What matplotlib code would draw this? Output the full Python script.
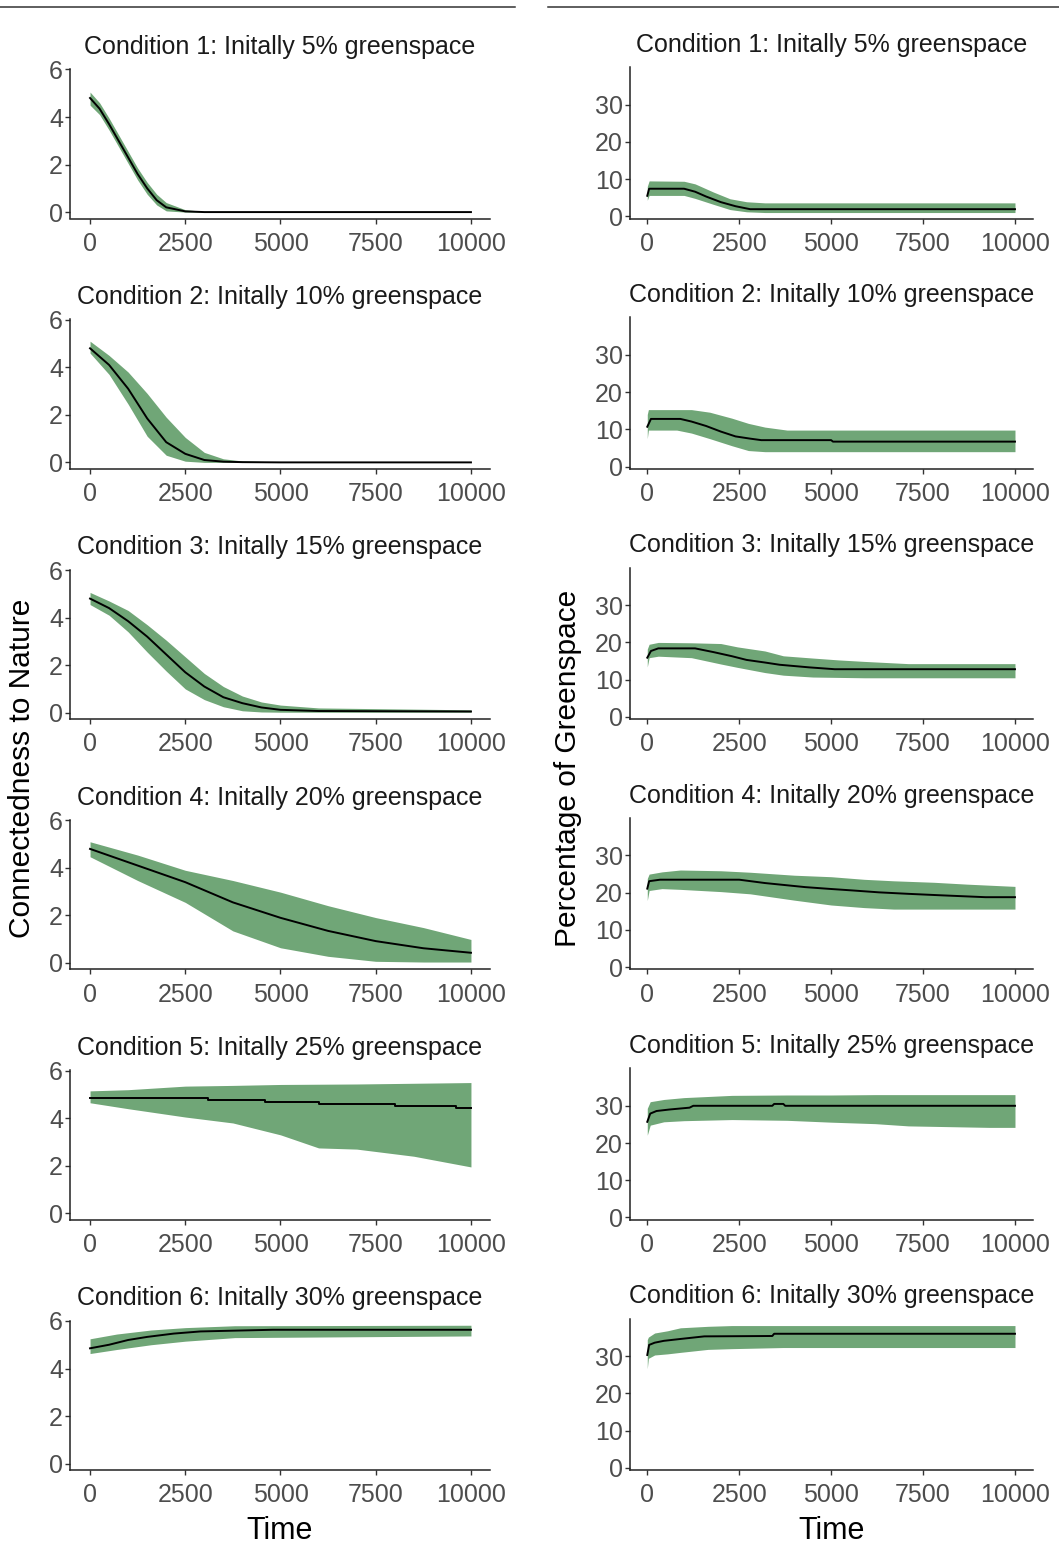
import matplotlib
matplotlib.use("Agg")
import matplotlib.pyplot as plt
from matplotlib.lines import Line2D

plt.rcParams['font.family'] = ['Liberation Sans', 'DejaVu Sans']

titles = [
    "Condition 1: Initally 5% greenspace",
    "Condition 2: Initally 10% greenspace",
    "Condition 3: Initally 15% greenspace",
    "Condition 4: Initally 20% greenspace",
    "Condition 5: Initally 25% greenspace",
    "Condition 6: Initally 30% greenspace",
]
x_ticks = [0, 2500, 5000, 7500, 10000]
cn_ticks = [0, 2, 4, 6]
gs_ticks = [0, 10, 20, 30]

# ---- connectedness to nature (left column) ----
cn1_time = [0, 250, 500, 750, 1000, 1250, 1500, 1750, 2000, 2500, 3000, 10000]
cn1_mean = [4.8, 4.35, 3.7, 3.0, 2.3, 1.6, 1.0, 0.5, 0.2, 0.03, 0.0, 0.0]
cn1_low = [4.5, 4.1, 3.45, 2.75, 2.05, 1.35, 0.75, 0.3, 0.05, 0.0, 0.0, 0.0]
cn1_high = [5.05, 4.6, 3.95, 3.25, 2.55, 1.85, 1.25, 0.75, 0.4, 0.1, 0.03, 0.0]

cn2_time = [0, 500, 1000, 1500, 2000, 2500, 3000, 3500, 4000, 5000, 10000]
cn2_mean = [4.8, 4.1, 3.1, 1.85, 0.85, 0.36, 0.1, 0.03, 0.01, 0.0, 0.0]
cn2_low = [4.6, 3.7, 2.45, 1.1, 0.3, 0.05, 0.0, 0.0, 0.0, 0.0, 0.0]
cn2_high = [5.1, 4.5, 3.8, 2.9, 1.9, 1.05, 0.42, 0.15, 0.06, 0.02, 0.0]

cn3_time = [0, 500, 1000, 1500, 2000, 2500, 3000, 3500, 4000, 4500, 5000, 6000, 10000]
cn3_mean = [4.8, 4.4, 3.85, 3.2, 2.45, 1.7, 1.1, 0.65, 0.4, 0.22, 0.12, 0.07, 0.05]
cn3_low = [4.55, 4.1, 3.4, 2.55, 1.75, 1.0, 0.55, 0.25, 0.08, 0.03, 0.02, 0.02, 0.02]
cn3_high = [5.06, 4.7, 4.3, 3.7, 3.05, 2.35, 1.65, 1.1, 0.7, 0.45, 0.32, 0.2, 0.12]

cn4_time = [0, 1250, 2500, 3750, 5000, 6250, 7500, 8750, 10000]
cn4_mean = [4.8, 4.1, 3.4, 2.55, 1.9, 1.35, 0.92, 0.62, 0.43]
cn4_low = [4.47, 3.47, 2.55, 1.35, 0.64, 0.28, 0.07, 0.04, 0.04]
cn4_high = [5.1, 4.54, 3.9, 3.47, 2.98, 2.41, 1.91, 1.49, 0.99]

cn5_mean_time = [0, 3100, 4600, 6000, 8000, 9600, 10000]
cn5_mean = [4.85, 4.75, 4.68, 4.6, 4.52, 4.44, 4.44]
cn5_time = [0, 1000, 2500, 3750, 5000, 6000, 7000, 8500, 10000]
cn5_low = [4.65, 4.4, 4.05, 3.8, 3.3, 2.75, 2.7, 2.4, 1.95]
cn5_high = [5.15, 5.2, 5.35, 5.38, 5.42, 5.43, 5.44, 5.47, 5.5]

cn6_mean_time = [0, 500, 1000, 1500, 2200, 2900, 4800, 10000]
cn6_mean = [4.85, 5.0, 5.2, 5.33, 5.47, 5.56, 5.63, 5.63]
cn6_time = [0, 700, 1600, 2500, 3800, 10000]
cn6_low = [4.63, 4.8, 5.0, 5.15, 5.3, 5.37]
cn6_high = [5.25, 5.45, 5.62, 5.72, 5.8, 5.82]

# ---- percentage of greenspace (right column) ----
gs1_mean_time = [0, 50, 1000, 1300, 1600, 2000, 2400, 2800, 10000]
gs1_mean = [5.5, 7.4, 7.4, 6.6, 5.3, 3.8, 2.7, 1.9, 1.9]
gs1_time = [0, 50, 1000, 1300, 1800, 2250, 2700, 3200, 10000]
gs1_low = [4.3, 5.6, 5.6, 4.8, 3.2, 1.8, 1.2, 1.0, 1.0]
gs1_high = [8.0, 9.5, 9.4, 8.7, 6.5, 4.7, 3.9, 3.6, 3.6]

gs2_mean_time = [0, 100, 900, 1200, 1600, 2000, 2400, 2800, 3100, 5000, 5050, 10000]
gs2_mean = [10.7, 12.8, 12.8, 12.1, 10.9, 9.4, 8.1, 7.5, 7.1, 7.1, 6.7, 6.7]
gs2_time = [0, 30, 800, 1200, 1700, 2300, 2750, 3200, 3800, 10000]
gs2_low = [7.5, 9.8, 9.8, 9.0, 7.5, 5.6, 4.3, 4.0, 4.0, 4.0]
gs2_high = [14.0, 15.3, 15.3, 15.3, 14.6, 13.0, 11.6, 10.6, 9.8, 9.8]

gs3_mean_time = [0, 100, 300, 1300, 1800, 2300, 2700, 3200, 3600, 4400, 5100, 10000]
gs3_mean = [15.9, 17.7, 18.4, 18.4, 17.4, 16.3, 15.3, 14.6, 14.0, 13.3, 12.8, 12.8]
gs3_time = [0, 50, 300, 1200, 2000, 2450, 3200, 3700, 4500, 5200, 5900, 7100, 10000]
gs3_low = [13.4, 15.9, 16.3, 15.9, 14.2, 13.3, 11.9, 11.2, 10.7, 10.6, 10.5, 10.5, 10.5]
gs3_high = [18.2, 19.5, 20.0, 19.9, 19.7, 18.8, 17.7, 16.4, 15.8, 15.3, 14.9, 14.3, 14.3]

gs4_mean_time = [0, 50, 350, 2500, 3200, 3800, 4300, 5000, 5600, 6300, 7100, 8000, 9200, 10000]
gs4_mean = [21.1, 23.1, 23.5, 23.5, 22.6, 22.0, 21.5, 21.0, 20.6, 20.1, 19.7, 19.3, 18.8, 18.8]
gs4_time = [0, 50, 400, 900, 2000, 2800, 4000, 5000, 5900, 6700, 7800, 8700, 10000]
gs4_low = [17.9, 20.6, 21.1, 20.9, 20.3, 19.7, 18.0, 16.7, 16.0, 15.6, 15.6, 15.6, 15.6]
gs4_high = [23.8, 25.0, 25.6, 26.1, 25.9, 25.5, 24.7, 24.3, 23.6, 23.2, 22.8, 22.3, 21.7]

gs5_mean_time = [0, 80, 250, 600, 1150, 1250, 3400, 3450, 3700, 3750, 10000]
gs5_mean = [25.7, 27.9, 28.6, 29.0, 29.5, 30.0, 30.0, 30.5, 30.5, 30.0, 30.0]
gs5_time = [0, 80, 450, 1000, 2300, 3800, 5000, 6200, 7100, 9300, 10000]
gs5_low = [22.1, 24.8, 25.7, 26.0, 26.3, 26.1, 25.6, 25.2, 24.6, 24.2, 24.2]
gs5_high = [29.3, 31.1, 31.7, 32.2, 32.8, 32.9, 32.9, 33.0, 33.0, 33.0, 33.0]

gs6_mean_time = [0, 50, 200, 450, 900, 1550, 3400, 3450, 10000]
gs6_mean = [30.3, 33.0, 33.6, 34.1, 34.6, 35.3, 35.4, 36.0, 36.0]
gs6_time = [0, 30, 200, 550, 900, 1650, 2300, 3700, 10000]
gs6_low = [26.6, 29.4, 30.3, 30.6, 31.0, 31.8, 32.0, 32.3, 32.3]
gs6_high = [34.4, 35.1, 36.2, 36.8, 37.6, 38.0, 38.2, 38.2, 38.2]

left_panels = [
    (cn1_time, cn1_low, cn1_high, cn1_time, cn1_mean),
    (cn2_time, cn2_low, cn2_high, cn2_time, cn2_mean),
    (cn3_time, cn3_low, cn3_high, cn3_time, cn3_mean),
    (cn4_time, cn4_low, cn4_high, cn4_time, cn4_mean),
    (cn5_time, cn5_low, cn5_high, cn5_mean_time, cn5_mean),
    (cn6_time, cn6_low, cn6_high, cn6_mean_time, cn6_mean),
]
right_panels = [
    (gs1_time, gs1_low, gs1_high, gs1_mean_time, gs1_mean),
    (gs2_time, gs2_low, gs2_high, gs2_mean_time, gs2_mean),
    (gs3_time, gs3_low, gs3_high, gs3_mean_time, gs3_mean),
    (gs4_time, gs4_low, gs4_high, gs4_mean_time, gs4_mean),
    (gs5_time, gs5_low, gs5_high, gs5_mean_time, gs5_mean),
    (gs6_time, gs6_low, gs6_high, gs6_mean_time, gs6_mean),
]

W, H = 1059, 1544
band_color = '#70a677'
fig = plt.figure(figsize=(W / 100, H / 100), dpi=100)


def px_axes(x0, y0, x1, y1):
    return fig.add_axes([x0 / W, 1 - y1 / H, (x1 - x0) / W, (y1 - y0) / H])


def style(ax, title, yticks, ylim, xlim):
    ax.set_xlim(*xlim)
    ax.set_ylim(*ylim)
    ax.set_xticks(x_ticks)
    ax.set_yticks(yticks)
    for s in ['top', 'right']:
        ax.spines[s].set_visible(False)
    for s in ['left', 'bottom']:
        ax.spines[s].set_linewidth(1.1)
        ax.spines[s].set_color('#222222')
    ax.tick_params(direction='out', length=3.6, width=1.0, color='#333333',
                   labelcolor='#4d4d4d', labelsize=18)
    ax.tick_params(axis='x', pad=6)
    ax.tick_params(axis='y', pad=1.5)
    ax.set_title(title, fontsize=18, color='#1a1a1a', pad=11)


step = 250.3
for k in range(6):
    # left column
    t, lo, hi, mt, m = left_panels[k]
    ax = px_axes(70, 69 + step * k, 490, 218.5 + step * k)
    ax.fill_between(t, lo, hi, color=band_color, linewidth=0)
    ax.plot(mt, m, color='black', linewidth=1.4,
            drawstyle='steps-post' if k == 4 else 'default')
    style(ax, titles[k], cn_ticks, (-0.27, 6.02), (-526, 10500))
    if k == 5:
        ax.set_xlabel('Time', fontsize=22, labelpad=6)

    # right column
    t, lo, hi, mt, m = right_panels[k]
    ax = px_axes(630, 67 + step * k, 1033, 218.5 + step * k)
    ax.fill_between(t, lo, hi, color=band_color, linewidth=0)
    ax.plot(mt, m, color='black', linewidth=1.4)
    style(ax, titles[k], gs_ticks, (-0.6, 40.1), (-470, 10490))
    if k == 5:
        ax.set_xlabel('Time', fontsize=22, labelpad=6)

fig.text(22 / W, 1 - 768 / H, 'Connectedness to Nature', rotation=90,
         ha='center', va='center', fontsize=21.5)
fig.text(568 / W, 1 - 768 / H, 'Percentage of Greenspace', rotation=90,
         ha='center', va='center', fontsize=21.5)

# cropped frame edges at the top of the figure
fig.add_artist(Line2D([0, 515 / W], [1 - 7 / H, 1 - 7 / H], color='#333333', linewidth=1.1))
fig.add_artist(Line2D([548 / W, 1], [1 - 7 / H, 1 - 7 / H], color='#333333', linewidth=1.1))

fig.savefig('out.png', dpi=100)
